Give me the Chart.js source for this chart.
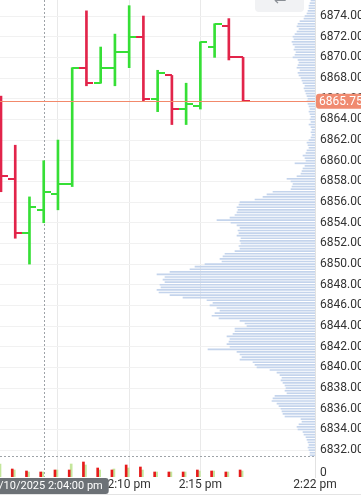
<!DOCTYPE html>
<html lang="en">
<head>
  <meta charset="UTF-8">
  <meta name="viewport" content="width=device-width, initial-scale=1.0">
  <script src="https://cdn.jsdelivr.net/npm/chart.js"></script>
  <style>
    html, body { margin: 0; padding: 0; background: #fff; }
    .chart-box { position: relative; width: 361px; height: 498px; }
  </style>
</head>
<body>
  <div class="chart-box"><canvas id="priceChart"></canvas></div>

  <script>
    // one-minute bars, minutes after 2:00 pm on 7/10/2025
    const minutes = [1, 2, 3, 4, 5, 6, 7, 8, 9, 10, 11, 12, 13, 14, 15, 16, 17, 18];
    const opens  = [6864, 6858.25, 6853, 6855.25, 6856.75, 6857.75, 6869, 6867.5, 6869, 6870.5, 6872, 6866, 6868.25, 6865, 6865.25, 6871, 6873, 6870];
    const highs  = [6866.25, 6861.5, 6856.5, 6860, 6862, 6869, 6874.5, 6871, 6872.25, 6875, 6874, 6868.75, 6868.25, 6867.5, 6871.5, 6873.25, 6873.75, 6870];
    const lows   = [6857, 6852.5, 6850, 6854, 6855.25, 6857.5, 6867.25, 6867.5, 6867.25, 6869, 6865.75, 6864.75, 6863.5, 6863.5, 6865, 6870, 6869.75, 6865.75];
    const closes = [6858.5, 6853, 6855.5, 6857, 6857.75, 6869, 6867.5, 6869, 6870.5, 6872, 6866, 6868.5, 6865, 6865.5, 6871.5, 6873.25, 6870, 6865.75];

    const sellVol = [1300, 800, 600, 500, 700, 700, 1500, 900, 700, 1200, 1000, 500, 500, 500, 700, 600, 500, 700];
    const buyVol  = [1300, 700, 500, 500, 700, 1300, 1200, 700, 800, 900, 700, 500, 500, 500, 600, 600, 500, 600];

    // volume profile, one value per 0.25 tick from the top price down
    const profileTop = 6875.5;
    const profileStep = 0.25;
    const profileVol = [
      4, 5, 6, 6, 7, 8, 10, 11, 15, 17, 18, 16, 18, 20, 22, 21, 23, 22, 20, 21, 19, 20, 22,
      17, 16, 17, 18, 15, 17, 16, 14, 13, 12, 10, 11, 10, 9, 8, 7, 8, 7, 6, 5, 6, 5, 4, 5,
      4, 6, 4, 3, 4, 3, 4, 6, 8, 7, 6, 8, 9, 12, 10, 9, 20, 10, 12, 13, 14, 18, 28, 24, 22,
      23, 24, 42, 48, 52, 60, 75, 76, 78, 77, 78, 80, 85, 98, 84, 78, 75, 77, 76, 78, 74,
      75, 74, 76, 75, 80, 90, 92, 95, 93, 110, 120, 125, 145, 158, 150, 152, 150, 155, 154,
      158, 156, 145, 132, 108, 102, 105, 98, 95, 100, 103, 96, 75, 70, 68, 80, 80, 82, 88,
      85, 86, 88, 85, 107, 78, 75, 73, 75, 62, 60, 58, 45, 38, 35, 33, 34, 32, 30, 29, 30,
      28, 40, 42, 43, 38, 36, 34, 33, 32, 30, 14, 13, 16, 18, 17, 12, 11, 9, 8, 7, 6, 7, 6, 5, 5
    ];

    const priceTicks = [6832, 6834, 6836, 6838, 6840, 6842, 6844, 6846, 6848, 6850, 6852,
                        6854, 6856, 6858, 6860, 6862, 6864, 6866, 6868, 6870, 6872, 6874];
    const timeTicks = [5, 10, 15, 23.05];
    const timeLabels = ['2:05 pm', '2:10 pm', '2:15 pm', '2:22 pm'];

    const lastPrice = 6865.75;
    const crossTime = 4;
    const crossLabel = '7/10/2025 2:04:00 pm';
    const volPaneMax = 2100;   // volume shown in the strip under the price pane

    const UP = '#36df36';
    const DOWN = '#e2244a';
    const FONT = { family: 'Roboto', size: 12 };

    function tickImage(color, side) {
      const c = document.createElement('canvas');
      c.width = 14;
      c.height = 2;
      const g = c.getContext('2d');
      g.fillStyle = color;
      g.fillRect(side === 'open' ? 0 : 7, 0, 7, 2);
      return c;
    }
    const openUp = tickImage(UP, 'open'), openDown = tickImage(DOWN, 'open');
    const closeUp = tickImage(UP, 'close'), closeDown = tickImage(DOWN, 'close');

    const isUp = i => closes[i] >= opens[i];

    // hidden helper axes must not take any room in the layout
    const noRoom = s => { s.width = 0; s.height = 0; s.paddingTop = 0; s.paddingBottom = 0; s.paddingLeft = 0; s.paddingRight = 0; };

    const overlay = {
      id: 'overlay',
      beforeDatasetsDraw(chart) {
        const { ctx, chartArea, scales } = chart;
        const x = Math.round(scales.x.getPixelForValue(crossTime)) + 0.5;
        const yb = Math.round(scales.yVol.getPixelForValue(volPaneMax)) + 0.5;
        ctx.save();
        ctx.strokeStyle = '#9ea3a8';
        ctx.lineWidth = 1;
        ctx.setLineDash([2, 2]);
        ctx.beginPath();
        ctx.moveTo(x, chartArea.top);
        ctx.lineTo(x, chartArea.bottom);
        ctx.moveTo(chartArea.left, yb);
        ctx.lineTo(chartArea.right, yb);
        ctx.stroke();
        ctx.restore();
      },
      afterDatasetsDraw(chart) {
        const { ctx, chartArea, scales } = chart;
        const y = Math.round(scales.y.getPixelForValue(lastPrice)) + 0.5;
        ctx.save();
        ctx.strokeStyle = '#f2896b';
        ctx.lineWidth = 1;
        ctx.beginPath();
        ctx.moveTo(chartArea.left, y);
        ctx.lineTo(chartArea.right, y);
        ctx.stroke();
        ctx.restore();
      },
      afterDraw(chart) {
        const { ctx, chartArea, scales, width } = chart;
        ctx.save();
        ctx.font = '12px Roboto';
        ctx.textBaseline = 'middle';

        // zero label of the volume strip
        ctx.fillStyle = '#333';
        ctx.textAlign = 'left';
        ctx.fillText('0', chartArea.right + 5, scales.yVol.getPixelForValue(0) - 4);

        // last price tag
        const y = scales.y.getPixelForValue(lastPrice);
        ctx.fillStyle = '#f08b70';
        ctx.beginPath();
        ctx.roundRect(chartArea.right + 1, y - 7.5, width - chartArea.right + 4, 15, 3);
        ctx.fill();
        ctx.fillStyle = '#fff';
        ctx.fillText(lastPrice.toFixed(2), chartArea.right + 4, y + 0.5);

        // crosshair time tag
        const cx = scales.x.getPixelForValue(crossTime);
        const top = chartArea.bottom + 1;
        ctx.fillStyle = '#6c7176';
        ctx.beginPath();
        ctx.roundRect(cx - 70, top, 135, 16, 3);
        ctx.fill();
        ctx.fillStyle = '#fff';
        ctx.font = '11px Roboto';
        ctx.textAlign = 'right';
        ctx.fillText(crossLabel, cx + 59, top + 8.5);

        // bottom separator
        const by = Math.round(scales.x.bottom) + 0.5;
        ctx.strokeStyle = '#e4e4e4';
        ctx.beginPath();
        ctx.moveTo(0, by);
        ctx.lineTo(width, by);
        ctx.stroke();

        // back button at the top
        ctx.fillStyle = '#f1f2f4';
        ctx.beginPath();
        ctx.roundRect(255, -8, 49, 20, 4);
        ctx.fill();
        ctx.fillStyle = '#8a8f95';
        ctx.font = '15px "DejaVu Sans"';
        ctx.textAlign = 'center';
        ctx.fillText('\u2190', 280, 1);

        ctx.restore();
      }
    };

    const ctx = document.getElementById('priceChart').getContext('2d');

    new Chart(ctx, {
      type: 'bar',
      data: {
        datasets: [
          {
            type: 'line',
            label: 'Open',
            data: minutes.map((m, i) => ({ x: m, y: opens[i] })),
            showLine: false,
            pointRadius: 3,
            pointStyle: c => c.dataIndex === undefined ? 'line' : (isUp(c.dataIndex) ? openUp : openDown),
            order: 1
          },
          {
            type: 'line',
            label: 'Close',
            data: minutes.map((m, i) => ({ x: m, y: closes[i] })),
            showLine: false,
            pointRadius: 3,
            pointStyle: c => c.dataIndex === undefined ? 'line' : (isUp(c.dataIndex) ? closeUp : closeDown),
            order: 1
          },
          {
            type: 'bar',
            label: 'Range',
            data: minutes.map((m, i) => ({ x: m, y: [lows[i], highs[i]] })),
            backgroundColor: c => c.dataIndex === undefined ? UP : (isUp(c.dataIndex) ? UP : DOWN),
            barThickness: 2,
            grouped: false,
            order: 2
          },
          {
            type: 'bar',
            label: 'Sell volume',
            yAxisID: 'yVol',
            data: minutes.map((m, i) => ({ x: m, y: sellVol[i] })),
            backgroundColor: '#e61b1b',
            barThickness: 2,
            order: 3
          },
          {
            type: 'bar',
            label: 'Buy volume',
            yAxisID: 'yVol',
            data: minutes.map((m, i) => ({ x: m, y: buyVol[i] })),
            backgroundColor: '#c4e69c',
            barThickness: 2,
            order: 3
          },
          {
            type: 'bar',
            label: 'Volume profile',
            indexAxis: 'y',
            xAxisID: 'xProf',
            yAxisID: 'y',
            data: profileVol.map((v, i) => ({ x: v, y: profileTop - i * profileStep })),
            backgroundColor: '#c4d4ec',
            barThickness: 1,
            grouped: false,
            order: 5
          }
        ]
      },
      options: {
        responsive: true,
        maintainAspectRatio: false,
        animation: false,
        events: [],
        layout: { autoPadding: false, padding: { top: 0, left: 0, right: 0, bottom: 4 } },
        plugins: {
          legend: { display: false },
          tooltip: { enabled: false }
        },
        scales: {
          x: {
            type: 'linear',
            position: 'bottom',
            min: 0.93,
            max: 23.05,
            offset: false,
            grid: { color: '#e9e9e9', drawTicks: false, offset: false },
            border: { display: false },
            ticks: {
              autoSkip: false,
              maxRotation: 0,
              padding: 1,
              color: '#333',
              font: FONT,
              callback: (v, i) => timeLabels[i]
            },
            afterBuildTicks: s => { s.ticks = timeTicks.map(v => ({ value: v })); },
            afterFit: s => { s.height = 17; s.paddingLeft = 0; s.paddingRight = 0; }
          },
          xProf: {
            type: 'linear',
            display: false,
            position: 'bottom',
            reverse: true,
            min: 0,
            max: 315,
            offset: false,
            afterFit: noRoom
          },
          y: {
            type: 'linear',
            position: 'right',
            min: 6829.4,
            max: 6875.55,
            offset: false,
            grid: { color: '#f1f1f1', drawTicks: false, offset: false },
            border: { color: '#e2e2e2' },
            ticks: {
              autoSkip: false,
              padding: 5,
              color: '#333',
              font: FONT,
              callback: v => v.toFixed(2)
            },
            afterBuildTicks: s => { s.ticks = priceTicks.map(v => ({ value: v })); },
            afterFit: s => { s.width = 46; s.paddingTop = 0; s.paddingBottom = 0; }
          },
          yVol: {
            type: 'linear',
            display: false,
            position: 'right',
            min: 0,
            max: volPaneMax * 477 / 21,
            offset: false,
            afterFit: noRoom
          }
        }
      },
      plugins: [overlay]
    });
  </script>
</body>
</html>
